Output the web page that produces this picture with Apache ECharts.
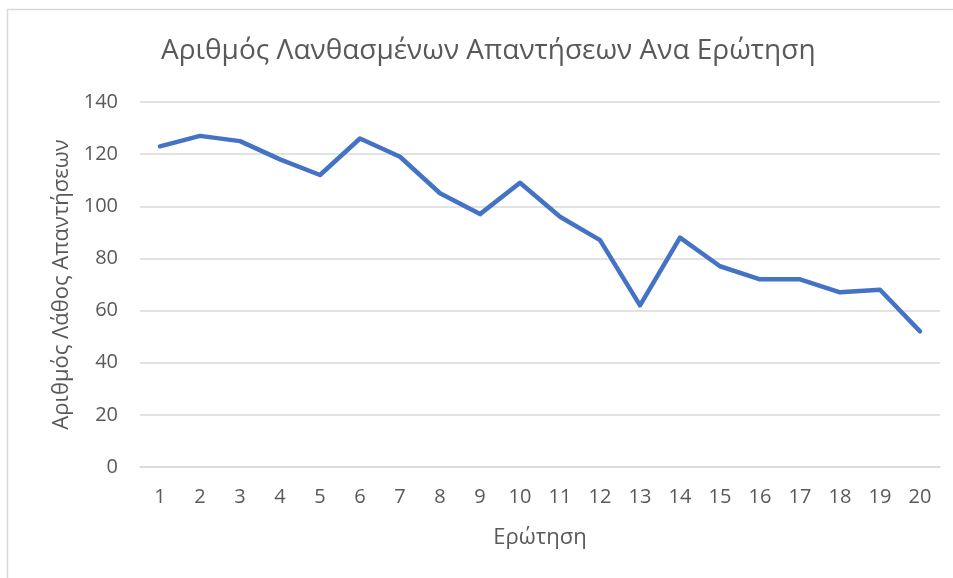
<!DOCTYPE html>
<html>
<head>
<meta charset="utf-8">
<script src="https://cdn.jsdelivr.net/npm/echarts@6/dist/echarts.min.js"></script>
<style>
  html, body { margin: 0; padding: 0; background: #fff; }
  #chart { width: 953px; height: 578px; }
</style>
</head>
<body>
<div id="chart"></div>
<script>
// data
const questions = ['1', '2', '3', '4', '5', '6', '7', '8', '9', '10',
  '11', '12', '13', '14', '15', '16', '17', '18', '19', '20']
const wrongAnswers = [123, 127, 125, 118, 112, 126, 119, 105, 97, 109,
  96, 87, 62, 88, 77, 72, 72, 67, 68, 52]
const yTicks = [0, 20, 40, 60, 80, 100, 120, 140]

const titleText = 'Αριθμός Λανθασμένων Απαντήσεων Ανα Ερώτηση'
const xName = 'Ερώτηση'
const yName = 'Αριθμός Λάθος Απαντήσεων'

const font = '"Open Sans", "Noto Sans", sans-serif'
const textColor = '#595959'

const chart = echarts.init(document.getElementById('chart'))
chart.setOption({
  backgroundColor: '#fff',
  animation: false,
  // light frame, only top and left edges are visible in the reference
  graphic: [{
    type: 'rect',
    shape: { x: 7.5, y: 9.5, width: 1200, height: 1200 },
    style: { fill: 'none', stroke: '#d9d9d9', lineWidth: 1.5 },
    silent: true
  }],
  title: {
    text: titleText,
    left: 156,
    top: 32,
    textStyle: {
      fontFamily: font,
      fontSize: 28,
      fontWeight: 'normal',
      color: textColor
    }
  },
  grid: {
    left: 140,
    right: 13,
    top: 102,
    bottom: 111,
    containLabel: false
  },
  xAxis: {
    type: 'category',
    data: questions,
    boundaryGap: true,
    name: xName,
    nameLocation: 'middle',
    nameGap: 60,
    nameTextStyle: { fontFamily: font, fontSize: 22, color: textColor },
    axisLine: { show: true, lineStyle: { color: '#d9d9d9', width: 1.5 } },
    axisTick: { show: false },
    axisLabel: {
      fontFamily: font,
      fontSize: 20,
      color: textColor,
      margin: 20,
      interval: 0
    }
  },
  yAxis: {
    type: 'value',
    min: yTicks[0],
    max: yTicks[yTicks.length - 1],
    interval: 20,
    name: yName,
    nameLocation: 'middle',
    nameGap: 66,
    nameTextStyle: { fontFamily: font, fontSize: 22, color: textColor },
    axisLine: { show: false },
    axisTick: { show: false },
    splitLine: { lineStyle: { color: '#d9d9d9', width: 1.5 } },
    axisLabel: {
      fontFamily: font,
      fontSize: 20,
      color: textColor,
      margin: 22
    }
  },
  series: [{
    type: 'line',
    data: wrongAnswers,
    symbol: 'none',
    lineStyle: { color: '#4472c4', width: 4.5, cap: 'round', join: 'round' },
    itemStyle: { color: '#4472c4' }
  }]
})
</script>
</body>
</html>
